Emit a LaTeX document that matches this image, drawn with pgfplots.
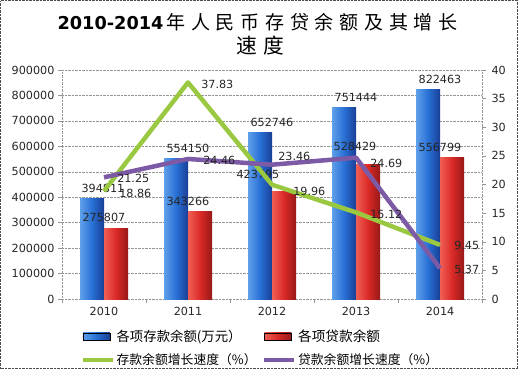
\documentclass[border=0pt]{standalone}
\usepackage{fontspec}
\setmainfont{DejaVu Sans}
\newfontfamily\cjk{Noto Sans CJK SC}
\usepackage{graphicx}
\usepackage{pgfplots}
\pgfplotsset{compat=1.18}
\usepackage{pgfplotstable}

\definecolor{blueL}{RGB}{95,160,235}
\definecolor{blueM}{RGB}{40,112,212}
\definecolor{blueR}{RGB}{25,62,150}
\definecolor{redL}{RGB}{240,95,85}
\definecolor{redM}{RGB}{218,42,38}
\definecolor{redR}{RGB}{150,25,25}
\definecolor{lgreen}{RGB}{155,200,65}
\definecolor{lpurple}{RGB}{125,90,165}
\definecolor{gridgray}{RGB}{150,150,150}

\newcommand\cb[1]{\makebox[1.3em]{#1}}

\pgfplotstableread{
x dep dx dy
0 394811 -1 10
1 554150 0 10
2 652746 0 10
3 751444 0 10
4 822463 0 10
}\deposit
\pgfplotstableread{
x loan dx dy
0 275807 0 11
1 343266 0 10
2 423795 -14 17
3 528429 -1 18
4 556799 0 10
}\loan
\pgfplotstableread{
x g dx dy
0 18.86 13 -2
1 37.83 11 -2
2 19.96 19 -7
3 15.12 12 -2
4 9.45 12 -1
}\depgrowth
\pgfplotstableread{
x g dx dy
0 21.25 11 -1
1 24.46 13 -1
2 23.46 4 8
3 24.69 12 -6
4 5.37 12 -1
}\loangrowth

\pgfplotsset{
  /pgf/number format/.cd, fixed, precision=2, 1000 sep={}, assume math mode=true,
  /pgfplots/.cd,
  base/.style={
    scale only axis, width=420pt, height=229pt,
    at={(62pt,70pt)}, anchor=south west,
    xmin=-0.5, xmax=4.5,
    tick align=outside, major tick length=4pt,
    tick style={gridgray, thin},
    axis line style={gridgray, densely dotted},
    tick label style={font=\fontsize{11.2}{13}\selectfont, text=black!85},
    nodes near coords style={font=\fontsize{11.2}{13}\selectfont, inner sep=0pt, text=black!85},
  },
}

\begin{document}
\begin{tikzpicture}
\path[use as bounding box] (0pt,0pt) rectangle (518pt,369pt);
\draw[densely dotted, black!70] (0.5pt,0.5pt) rectangle (517.5pt,368.5pt);

\node[anchor=base, inner sep=0pt] at (259pt,339pt) {\resizebox{106pt}{!}{\bfseries\fontsize{18}{20}\selectfont 2010-2014}\resizebox{297pt}{!}{\cjk\fontsize{20}{24}\selectfont\cb{年}\cb{人}\cb{民}\cb{币}\cb{存}\cb{贷}\cb{余}\cb{额}\cb{及}\cb{其}\cb{增}\cb{长}}};
\node[anchor=base, inner sep=0pt] at (260pt,315pt) {\resizebox{54pt}{!}{\cjk\fontsize{20}{24}\selectfont\cb{速}\cb{度}}};

\begin{axis}[base,
  ymin=0, ymax=900000,
  ytick={0,100000,...,900000},
  scaled y ticks=false,
  axis y line*=left, axis x line*=bottom,
  ymajorgrids, grid style={gridgray, densely dotted},
  xtick={-0.5,0.5,...,4.5}, xticklabels={},
  extra x ticks={0,1,2,3,4},
  extra x tick labels={2010,2011,2012,2013,2014},
  extra x tick style={major tick length=0pt, grid=none},
  xticklabel style={yshift=-5pt},
  legend columns=2,
  legend cell align=left,
  legend style={draw=none, fill=none, at={(0.045,-0.125)}, anchor=north west, inner sep=0pt,
    font=\cjk\fontsize{13}{15}\selectfont,
    /tikz/every even column/.append style={column sep=4pt}, row sep=7pt},
]
\pgfplotsinvokeforeach{0,1,2,3,4}{
\addplot[ybar, bar width=24pt, bar shift=-12pt, draw=none,
  left color=blueL, right color=blueR, middle color=blueM, forget plot,
  restrict x to domain=#1:#1,
  visualization depends on={\thisrow{dx}\as\dx},
  visualization depends on={\thisrow{dy}\as\dy},
  nodes near coords, every node near coord/.append style={anchor=center, xshift=\dx pt, yshift=\dy pt}]
  table[x=x, y=dep] {\deposit};
\addplot[ybar, bar width=24pt, bar shift=12pt, draw=none,
  left color=redL, right color=redR, middle color=redM, forget plot,
  restrict x to domain=#1:#1,
  visualization depends on={\thisrow{dx}\as\dx},
  visualization depends on={\thisrow{dy}\as\dy},
  nodes near coords, every node near coord/.append style={anchor=center, xshift=\dx pt, yshift=\dy pt}]
  table[x=x, y=loan] {\loan};
}

\addlegendimage{legend image code/.code={\fill[left color=blueL,right color=blueR,middle color=blueM] (0pt,-3.5pt) rectangle (27pt,3.5pt);}}
\addlegendentry{\resizebox{125pt}{!}{各项存款余额(万元）}}
\addlegendimage{legend image code/.code={\fill[left color=redL,right color=redR,middle color=redM] (0pt,-3.5pt) rectangle (27pt,3.5pt);}}
\addlegendentry{\resizebox{82pt}{!}{各项贷款余额}}
\addlegendimage{legend image code/.code={\draw[lgreen, line width=3.5pt] (0pt,0pt) -- (30pt,0pt);}}
\addlegendentry{\resizebox{140pt}{!}{存款余额增长速度（\%）}}
\addlegendimage{legend image code/.code={\draw[lpurple, line width=3.5pt] (0pt,0pt) -- (30pt,0pt);}}
\addlegendentry{\resizebox{140pt}{!}{贷款余额增长速度（\%）}}
\end{axis}

\begin{axis}[base,
  ymin=0, ymax=40,
  ytick={0,5,...,40},
  axis y line*=right, axis x line=none,
  yticklabel style={xshift=2pt},
  clip=false,
]
\addplot[lgreen, line width=4.5pt, line join=round, no markers,
  visualization depends on={\thisrow{dx}\as\dx},
  visualization depends on={\thisrow{dy}\as\dy},
  nodes near coords, every node near coord/.append style={anchor=west, xshift=\dx pt, yshift=\dy pt}]
  table[x=x, y=g] {\depgrowth};
\addplot[lpurple, line width=4.5pt, line join=round, no markers,
  visualization depends on={\thisrow{dx}\as\dx},
  visualization depends on={\thisrow{dy}\as\dy},
  nodes near coords, every node near coord/.append style={anchor=west, xshift=\dx pt, yshift=\dy pt}]
  table[x=x, y=g] {\loangrowth};
\end{axis}
\end{tikzpicture}
\end{document}
